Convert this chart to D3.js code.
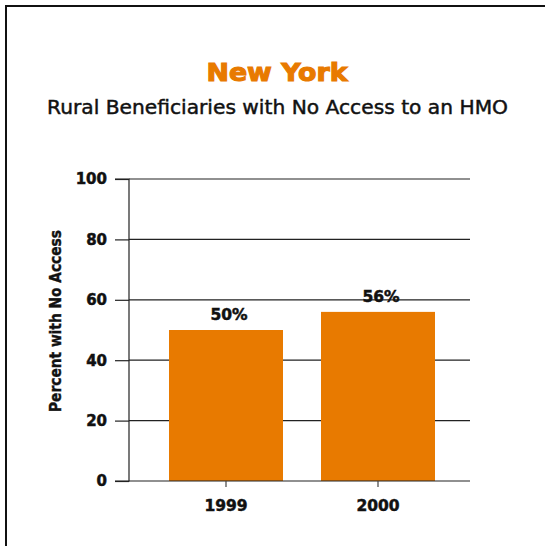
<!DOCTYPE html>
<html><head><meta charset="utf-8">
<script src="https://cdn.jsdelivr.net/npm/d3@7"></script>
<style>
html,body{margin:0;padding:0;background:#fff;}
svg{display:block;}
text{font-family:"DejaVu Sans",sans-serif;}
</style></head>
<body>
<script>
const years = ["1999", "2000"];
const values = [50, 56];
const valueLabels = ["50%", "56%"];
const yTicks = [0, 20, 40, 60, 80, 100];
const title = "New York";
const subtitle = "Rural Beneficiaries with No Access to an HMO";
const yTitle = "Percent with No Access";

const W = 545, H = 546;
const orange = "#E87A00";
const svg = d3.select("body").append("svg").attr("width", W).attr("height", H);

// frame (top and left edges)
svg.append("path").attr("d", `M6,${H} L6,6 L${W},6`).attr("fill", "none")
  .attr("stroke", "#111").attr("stroke-width", 2);

svg.append("text").attr("x", 277).attr("y", 81).attr("text-anchor", "middle")
  .attr("fill", orange).attr("stroke", orange).attr("stroke-width", 1.1)
  .attr("font-size", 24).attr("font-weight", "bold")
  .attr("textLength", 141).attr("lengthAdjust", "spacingAndGlyphs").text(title);
svg.append("text").attr("x", 277.5).attr("y", 114).attr("text-anchor", "middle")
  .attr("fill", "#111").attr("stroke", "#111").attr("stroke-width", 0.45)
  .attr("font-size", 19).attr("font-weight", "normal")
  .attr("textLength", 461).attr("lengthAdjust", "spacingAndGlyphs").text(subtitle);

const y = d3.scaleLinear().domain([0, 100]).range([481, 179]);
const x = d3.scaleBand().domain(years).range([150, 454]).paddingInner(0.25).paddingOuter(0.125);
const left = 129, right = 470;

// gridlines
svg.append("g").selectAll("line").data(yTicks.slice(1)).join("line")
  .attr("x1", left).attr("x2", right).attr("y1", d => y(d)).attr("y2", d => y(d))
  .attr("stroke", "#222").attr("stroke-width", 1.2);

// bars
svg.append("g").selectAll("rect").data(values).join("rect")
  .attr("x", (d, i) => x(years[i])).attr("width", x.bandwidth())
  .attr("y", d => y(d)).attr("height", d => y(0) - y(d)).attr("fill", orange);

// y axis
const yAxis = d3.axisLeft(y).tickValues(yTicks).tickSize(14).tickPadding(8).tickFormat(d3.format("d"));
const gy = svg.append("g").attr("transform", `translate(${left},0)`).call(yAxis);
gy.select(".domain").attr("stroke", "#222").attr("stroke-width", 1.2).attr("d", `M-14,${y(0)}H0V${y(100)}H-14`);
gy.selectAll(".tick line").attr("stroke", "#222").attr("stroke-width", 1.2);
gy.selectAll(".tick text").attr("fill", "#111").attr("stroke", "#111").attr("stroke-width", 0.5)
  .attr("font-size", 15).attr("font-weight", "bold")
  .attr("font-family", "DejaVu Sans, sans-serif");

// baseline
svg.append("line").attr("x1", left).attr("x2", right).attr("y1", y(0)).attr("y2", y(0))
  .attr("stroke", "#222").attr("stroke-width", 1.2);

// x axis
const xAxis = d3.axisBottom(x).tickSize(6).tickPadding(9);
const gx = svg.append("g").attr("transform", `translate(0,${y(0)})`).call(xAxis);
gx.select(".domain").remove();
gx.selectAll(".tick line").attr("stroke", "#444").attr("stroke-width", 1.2);
gx.selectAll(".tick text").attr("fill", "#111").attr("stroke", "#111").attr("stroke-width", 0.5)
  .attr("font-size", 15.5).attr("font-weight", "bold")
  .attr("font-family", "DejaVu Sans, sans-serif").attr("dy", "0.95em");

// value labels
svg.append("g").selectAll("text").data(values).join("text")
  .attr("x", (d, i) => x(years[i]) + x.bandwidth() / 2 + 3)
  .attr("y", d => y(d) - 10).attr("text-anchor", "middle")
  .attr("fill", "#111").attr("stroke", "#111").attr("stroke-width", 0.5)
  .attr("font-size", 15.5).attr("font-weight", "bold")
  .text((d, i) => valueLabels[i]);

// y title
svg.append("text").attr("transform", `translate(61,321) rotate(-90)`)
  .attr("text-anchor", "middle").attr("fill", "#111").attr("stroke", "#111").attr("stroke-width", 0.4)
  .attr("font-size", 15.5).attr("font-weight", "bold")
  .attr("textLength", 182).attr("lengthAdjust", "spacingAndGlyphs")
  .text(yTitle);
</script>
</body></html>
